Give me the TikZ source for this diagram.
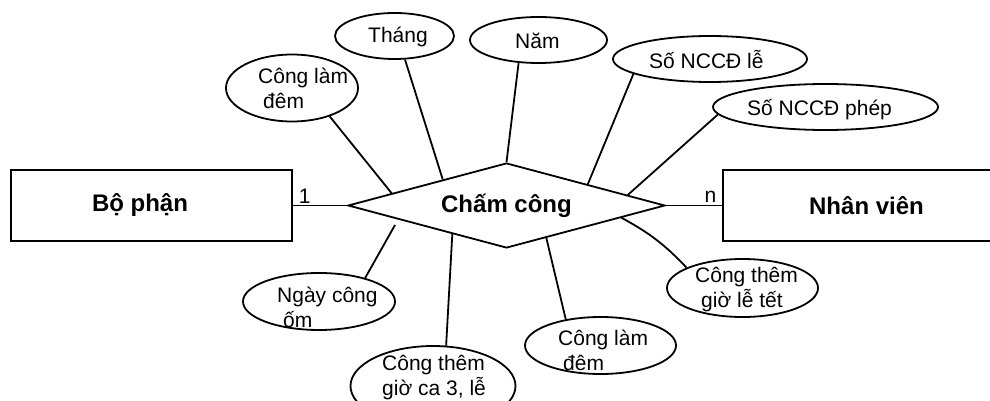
\documentclass[tikz,border=0pt]{standalone}
\usepackage{fontspec}
\setmainfont{Liberation Sans}
\usetikzlibrary{shapes.geometric,calc}
\begin{document}
\begin{tikzpicture}[x=1pt,y=-1pt,
  ln/.style={line width=1.8pt, draw=black},
  entity/.style={draw, line width=1.8pt, rectangle, minimum height=71pt, inner sep=0pt,
    font=\fontsize{24}{28}\selectfont\bfseries},
  entitytext/.style={inner sep=0pt, font=\fontsize{24}{28}\selectfont\bfseries},
  relation/.style={draw, line width=1.8pt, diamond, aspect=3.7, minimum width=317pt,
    minimum height=85pt, inner sep=1pt, font=\fontsize{24}{28}\selectfont\bfseries},
  attr/.style={draw, line width=1.8pt, ellipse, inner sep=0pt},
  attrtext/.style={anchor=base west, align=left, inner sep=0pt,
    font=\fontsize{21}{25}\selectfont},
  card/.style={inner sep=0pt, font=\fontsize{21}{25}\selectfont},
  ]
\useasboundingbox (0,0) rectangle (990,401);
\clip (0,0) rectangle (990,401);

% entities and relationship
\node[entity, minimum width=281pt] (bp) at (151.5,205.5) {};
\node[entitytext] (bp-t) at (140,205.5) {Bộ phận};
\node[entity, minimum width=287pt] (nv) at (866.5,205.5) {Nhân viên};
\node[relation] (cc) at (506.5,205.5) {Chấm công};

\draw[ln] (bp.east) -- (cc.west)
  node[card, pos=0, anchor=base west, xshift=5pt, yshift=2pt] (c1) {1};
\draw[ln] (cc.east) -- (nv.west)
  node[card, pos=1, anchor=base east, xshift=-5pt, yshift=3pt] (cn) {n};

% attributes (text nodes anchored at the baseline of their last line)
\node[attr, minimum width=132pt, minimum height=67pt] (cld1) at (292,88) {};
\node[attrtext] (cld1-t) at (258,109) {Công làm\\\hspace*{5pt}đêm};

\node[attr, minimum width=119pt, minimum height=46pt] (thang) at (394.5,36) {};
\node[attrtext] (thang-t) at (368,43) {Tháng};

\node[attr, minimum width=137pt, minimum height=46pt] (nam) at (538.5,40) {};
\node[attrtext] (nam-t) at (515,49) {Năm};

\node[attr, minimum width=194pt, minimum height=46pt] (le) at (710,59) {};
\node[attrtext] (le-t) at (649,69) {Số NCCĐ lễ};

\node[attr, minimum width=225pt, minimum height=46pt] (phep) at (825.5,107) {};
\node[attrtext] (phep-t) at (747,116) {Số NCCĐ phép};

\node[attr, minimum width=152pt, minimum height=57pt] (om) at (319,301.5) {};
\node[attrtext] (om-t) at (277,327) {Ngày công\\\hspace*{6pt}ốm};

\node[attr, minimum width=165pt, minimum height=80pt] (ca3) at (433,386) {};
\node[attrtext] (ca3-t) at (382,395) {Công thêm\\giờ ca 3, lễ};

\node[attr, minimum width=151pt, minimum height=57pt] (cld2) at (600.5,345.5) {};
\node[attrtext] (cld2-t) at (558,370) {Công làm\\\hspace*{5pt}đêm};

\node[attr, minimum width=151pt, minimum height=58pt] (letet) at (742.5,288) {};
\node[attrtext] (letet-t) at (695,307) {Công thêm\\\hspace*{6pt}giờ lễ tết};

% attribute links
\coordinate (om-end) at (395,225);
\draw[ln] ($(cc.west)!0.28!(cc.north)$) -- (cld1.-37);
\draw[ln] ($(cc.west)!0.60!(cc.north)$) -- (thang.-66);
\draw[ln] (cc.north) -- (nam.-131);
\draw[ln] ($(cc.north)!0.51!(cc.east)$) -- (le.-169);
\draw[ln] ($(cc.north)!0.76!(cc.east)$) -- (phep.-176);
\draw[ln] (om-end) -- (om.27);
\draw[ln] ($(cc.west)!0.66!(cc.south)$) -- (ca3.72);
\draw[ln] ($(cc.south)!0.25!(cc.east)$) -- (cld2.143);
\draw[ln] ($(cc.south)!0.72!(cc.east)$) to[bend left=9] (letet.160);
\end{tikzpicture}
\end{document}
